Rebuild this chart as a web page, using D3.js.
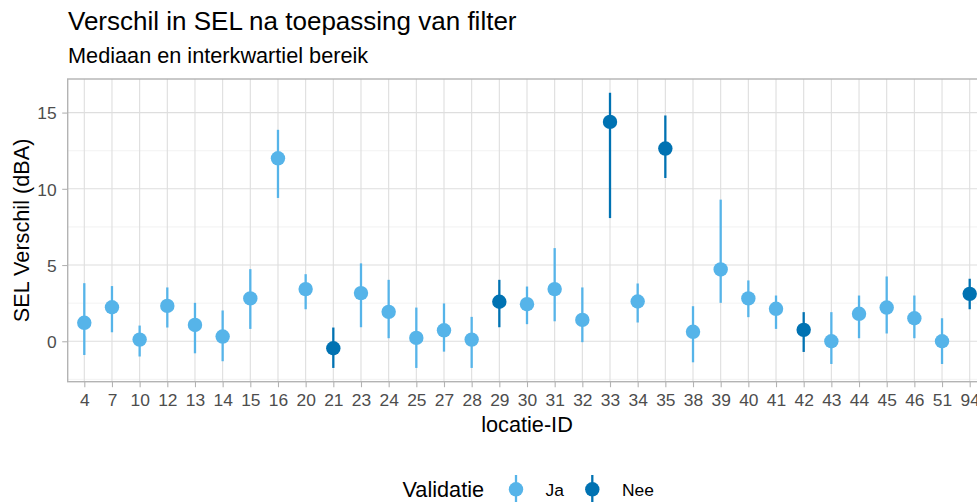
<!DOCTYPE html>
<html>
<head>
<meta charset="utf-8">
<script src="https://cdn.jsdelivr.net/npm/d3@7"></script>
<style>
  html, body { margin: 0; padding: 0; background: #fff; }
  svg { display: block; font-family: "Liberation Sans", Arial, sans-serif; }
</style>
</head>
<body>
<svg id="chart" width="977" height="502"></svg>
<script>
// ---- data ----
const locaties = ["4","7","10","12","13","14","15","16","20","21","23","24","25","27","28","29","30","31","32","33","34","35","38","39","40","41","42","43","44","45","46","51","94"];
const mediaan  = [1.21,2.23,0.11,2.32,1.07,0.31,2.81,12.0,3.42,-0.46,3.16,1.93,0.22,0.72,0.11,2.59,2.43,3.42,1.40,14.39,2.61,12.64,0.62,4.71,2.81,2.13,0.75,0.0,1.80,2.21,1.51,0.0,3.11];
const q1       = [-0.90,0.59,-1.0,0.90,-0.79,-1.31,0.81,9.40,2.10,-1.75,0.92,0.20,-1.75,-0.68,-1.75,0.92,1.12,1.31,-0.06,8.08,1.23,10.71,-1.38,2.52,1.58,0.81,-0.70,-1.49,0.20,0.51,0.20,-1.49,2.10];
const q3       = [3.81,3.62,1.03,3.53,2.52,2.02,4.73,13.87,4.40,0.90,5.11,4.03,2.21,2.48,1.60,4.03,3.59,6.11,3.53,16.30,3.79,14.81,2.30,9.29,3.99,3.00,1.91,1.91,3.00,4.25,3.00,1.51,4.10];
const validatie = ["Ja","Ja","Ja","Ja","Ja","Ja","Ja","Ja","Ja","Nee","Ja","Ja","Ja","Ja","Ja","Nee","Ja","Ja","Ja","Nee","Ja","Nee","Ja","Ja","Ja","Ja","Nee","Ja","Ja","Ja","Ja","Ja","Nee"];
const validatieLevels = ["Ja","Nee"];
const validatieColors = ["#56B4E9","#0072B2"];
const yTicks = [0,5,10,15];
const yMinor = [-2.5,2.5,7.5,12.5];

const rows = locaties.map((l,i)=>({loc:l, med:mediaan[i], lo:q1[i], hi:q3[i], val:validatie[i]}));

// ---- layout ----
const svg = d3.select("#chart");
const P = {left:67.7, right:986.3, top:79, bottom:381.7};
const FONT = "'Liberation Sans', Arial, sans-serif";

const x = d3.scalePoint().domain(locaties).range([P.left,P.right]).padding(0.6);
const lo = d3.min(q1), hi = d3.max(q3), ex = (hi-lo)*0.05;
const y = d3.scaleLinear().domain([lo-ex, hi+ex]).range([P.bottom,P.top]);
const color = d3.scaleOrdinal().domain(validatieLevels).range(validatieColors);

// grid
const g = svg.append("g");
g.selectAll("line.minor").data(yMinor.filter(v=>v>=y.domain()[0]&&v<=y.domain()[1])).join("line")
  .attr("x1",P.left).attr("x2",P.right).attr("y1",d=>y(d)).attr("y2",d=>y(d))
  .attr("stroke","#ececec").attr("stroke-width",0.7);
g.selectAll("line.majy").data(yTicks).join("line")
  .attr("x1",P.left).attr("x2",P.right).attr("y1",d=>y(d)).attr("y2",d=>y(d))
  .attr("stroke","#dedede").attr("stroke-width",1.1);
g.selectAll("line.majx").data(locaties).join("line")
  .attr("x1",d=>x(d)).attr("x2",d=>x(d)).attr("y1",P.top).attr("y2",P.bottom)
  .attr("stroke","#dedede").attr("stroke-width",1.1);

// panel border
svg.append("rect").attr("x",P.left).attr("y",P.top)
  .attr("width",P.right-P.left).attr("height",P.bottom-P.top)
  .attr("fill","none").attr("stroke","#b3b3b3").attr("stroke-width",1.4);

// axes
const xAxis = svg.append("g").attr("transform",`translate(0,${P.bottom})`)
  .call(d3.axisBottom(x).tickSize(5.5).tickPadding(4));
const yAxis = svg.append("g").attr("transform",`translate(${P.left},0)`)
  .call(d3.axisLeft(y).tickValues(yTicks).tickSize(5.5).tickPadding(5.5));
[xAxis,yAxis].forEach(a=>{
  a.select(".domain").remove();
  a.selectAll(".tick line").attr("stroke","#b3b3b3").attr("stroke-width",1.1);
  a.selectAll(".tick text").attr("fill","#4d4d4d").style("font-size","17.4px")
    .style("font-family",FONT);
});
xAxis.selectAll(".tick text").attr("y",24.6).attr("dy",0);
yAxis.selectAll(".tick text").attr("dy","0.36em");

// pointranges
const pr = svg.append("g").selectAll("g").data(rows).join("g");
pr.append("line").attr("x1",d=>x(d.loc)).attr("x2",d=>x(d.loc))
  .attr("y1",d=>y(d.lo)).attr("y2",d=>y(d.hi))
  .attr("stroke",d=>color(d.val)).attr("stroke-width",2.3);
pr.append("circle").attr("cx",d=>x(d.loc)).attr("cy",d=>y(d.med)).attr("r",7.2)
  .attr("fill",d=>color(d.val));

// titles
svg.append("text").attr("x",68).attr("y",29.5).text("Verschil in SEL na toepassing van filter")
  .style("font-size","26px").attr("fill","#000");
svg.append("text").attr("x",68).attr("y",63.3).text("Mediaan en interkwartiel bereik")
  .style("font-size","21.7px").attr("fill","#000");
svg.append("text").attr("transform",`translate(29,${(P.top+P.bottom)/2}) rotate(-90)`)
  .attr("text-anchor","middle").text("SEL Verschil (dBA)").style("font-size","21.7px").attr("fill","#000");
svg.append("text").attr("x",(P.left+P.right)/2).attr("y",432.3).attr("text-anchor","middle")
  .text("locatie-ID").style("font-size","21.7px").attr("fill","#000");

// legend
const leg = svg.append("g");
leg.append("text").attr("x",402.5).attr("y",496.7).text("Validatie").style("font-size","21.7px").attr("fill","#000");
const keyX = [516, 592.3], labX = [545.5, 622];
validatieLevels.forEach((lv,i)=>{
  leg.append("line").attr("x1",keyX[i]).attr("x2",keyX[i]).attr("y1",475).attr("y2",505)
    .attr("stroke",color(lv)).attr("stroke-width",2.3);
  leg.append("circle").attr("cx",keyX[i]).attr("cy",489.3).attr("r",7.2).attr("fill",color(lv));
  leg.append("text").attr("x",labX[i]).attr("y",496).text(lv).style("font-size","17.4px").attr("fill","#000");
});
</script>
</body>
</html>
